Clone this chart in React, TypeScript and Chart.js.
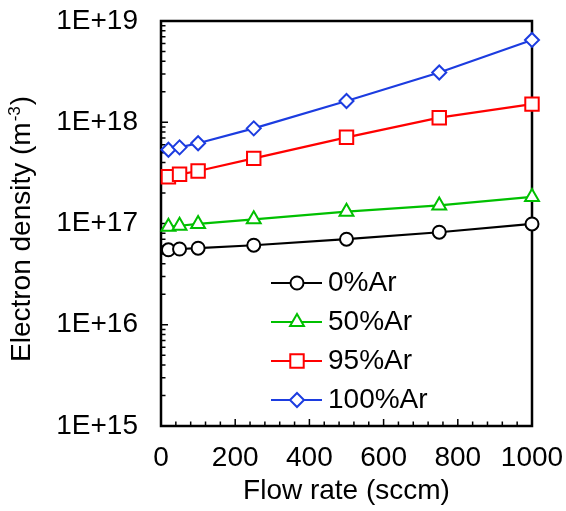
import { useEffect, useRef } from 'react';
import { Chart, registerables } from 'chart.js';

Chart.register(...registerables);

// Flow rate (sccm) at which electron density was measured
const flowRates = [20, 50, 100, 250, 500, 750, 1000];

// Electron density (m^-3) per Ar fraction
const ar0 = [5.5e16, 5.6e16, 5.7e16, 6.1e16, 7.0e16, 8.2e16, 9.9e16];
const ar50 = [9.3e16, 9.5e16, 9.9e16, 1.1e17, 1.31e17, 1.51e17, 1.83e17];
const ar95 = [2.9e17, 3.06e17, 3.3e17, 4.4e17, 7.1e17, 1.11e18, 1.51e18];
const ar100 = [5.35e17, 5.65e17, 6.2e17, 8.7e17, 1.62e18, 3.1e18, 6.5e18];

const seriesNames = ['0%Ar', '50%Ar', '95%Ar', '100%Ar'];
const seriesColors = ['#000000', '#00c000', '#ff0000', '#1c3ce0'];
const seriesShapes = ['circle', 'triangle', 'rect', 'rectRot'];
const seriesRadii = [6.5, 8, 9.5, 7];

const xTickValues = [0, 200, 400, 600, 800, 1000];
const yTickValues = [1e15, 1e16, 1e17, 1e18, 1e19];

const FONT = '"Liberation Sans", Arial, sans-serif';

function drawMarker(ctx: CanvasRenderingContext2D, shape: string, x: number, y: number, r: number) {
  ctx.beginPath();
  if (shape === 'circle') {
    ctx.arc(x, y, r, 0, Math.PI * 2);
  } else if (shape === 'triangle') {
    for (let i = 0; i < 3; i++) {
      const a = (i * 2 * Math.PI) / 3;
      const px = x + Math.sin(a) * r;
      const py = y - Math.cos(a) * r;
      if (i === 0) ctx.moveTo(px, py);
      else ctx.lineTo(px, py);
    }
    ctx.closePath();
  } else if (shape === 'rect') {
    const s = r * Math.SQRT1_2;
    ctx.rect(x - s, y - s, 2 * s, 2 * s);
  } else {
    ctx.moveTo(x, y - r);
    ctx.lineTo(x + r, y);
    ctx.lineTo(x, y + r);
    ctx.lineTo(x - r, y);
    ctx.closePath();
  }
  ctx.fill();
  ctx.stroke();
}

// Plot frame with inward ticks (drawn under the data)
const framePlugin = {
  id: 'frameTicks',
  beforeDatasetsDraw(chart: any) {
    const { ctx, chartArea: a, scales } = chart;
    const xs = scales.x;
    const ys = scales.y;
    ctx.save();
    ctx.strokeStyle = '#000';
    ctx.lineWidth = 1.5;
    ctx.beginPath();
    for (let v = 0; v <= 1000; v += 40) {
      const px = xs.getPixelForValue(v);
      const len = v % 200 === 0 ? 7 : 4.5;
      ctx.moveTo(px, a.bottom);
      ctx.lineTo(px, a.bottom - len);
    }
    for (let e = 15; e <= 19; e++) {
      for (let k = 1; k < 10; k++) {
        if (e === 19 && k > 1) break;
        const v = k * Math.pow(10, e);
        const py = ys.getPixelForValue(v);
        const len = k === 1 ? 7 : 4.5;
        ctx.moveTo(a.left, py);
        ctx.lineTo(a.left + len, py);
      }
    }
    ctx.stroke();
    ctx.lineWidth = 2.5;
    ctx.strokeRect(a.left, a.top, a.right - a.left, a.bottom - a.top);
    ctx.restore();
  },
  afterDraw(chart: any) {
    const { ctx } = chart;
    ctx.save();
    // Legend: line segment with marker, then series name
    const rowY = [283, 322, 361, 400];
    seriesNames.forEach((name, i) => {
      const y = rowY[i];
      ctx.strokeStyle = seriesColors[i];
      ctx.lineWidth = 2.2;
      ctx.beginPath();
      ctx.moveTo(271, y);
      ctx.lineTo(322, y);
      ctx.stroke();
      ctx.fillStyle = '#fff';
      ctx.lineWidth = 2;
      drawMarker(ctx, seriesShapes[i], 297, y, seriesRadii[i]);
      ctx.fillStyle = '#000';
      ctx.font = `28px ${FONT}`;
      ctx.textAlign = 'left';
      ctx.textBaseline = 'middle';
      ctx.fillText(name, 328, y);
    });

    // Y axis title with superscript exponent
    ctx.translate(30, 362);
    ctx.rotate(-Math.PI / 2);
    ctx.fillStyle = '#000';
    ctx.textAlign = 'left';
    ctx.textBaseline = 'alphabetic';
    const main = 'Electron density (m';
    ctx.font = `28px ${FONT}`;
    ctx.fillText(main, 0, 0);
    let w = ctx.measureText(main).width + 1;
    ctx.font = `17px ${FONT}`;
    ctx.fillText('-3', w, -10);
    w += ctx.measureText('-3').width + 1;
    ctx.font = `28px ${FONT}`;
    ctx.fillText(')', w, 0);
    ctx.restore();
  },
};

export default function App() {
  const canvasRef = useRef<HTMLCanvasElement | null>(null);

  useEffect(() => {
    const canvas = canvasRef.current;
    if (!canvas) return;
    const seriesValues = [ar0, ar50, ar95, ar100];
    const chart = new Chart(canvas, {
      type: 'line',
      data: {
        datasets: seriesValues.map((vals, i) => ({
          label: seriesNames[i],
          data: flowRates.map((x, j) => ({ x, y: vals[j] })),
          borderColor: seriesColors[i],
          backgroundColor: '#ffffff',
          pointBackgroundColor: '#ffffff',
          pointBorderColor: seriesColors[i],
          pointBorderWidth: 2,
          pointStyle: seriesShapes[i] as any,
          pointRadius: seriesRadii[i],
          borderWidth: 2.2,
          tension: 0,
          clip: false as any,
        })),
      },
      options: {
        responsive: false,
        animation: false,
        layout: { padding: { left: 0, right: 34, top: 21, bottom: 0 } },
        plugins: {
          legend: { display: false },
          tooltip: { enabled: false },
        },
        scales: {
          x: {
            type: 'linear',
            min: 0,
            max: 1000,
            grid: { display: false, drawTicks: false },
            border: { display: false },
            afterBuildTicks: (s: any) => {
              s.ticks = xTickValues.map((value) => ({ value }));
            },
            afterFit: (s: any) => {
              s.height = 85;
              s.paddingLeft = 0;
              s.paddingRight = 0;
            },
            ticks: {
              autoSkip: false,
              maxRotation: 0,
              padding: 15,
              color: '#000',
              font: { family: FONT, size: 28 },
              callback: (v: any) => String(v),
            },
            title: {
              display: true,
              text: 'Flow rate (sccm)',
              color: '#000',
              font: { family: FONT, size: 28 },
              padding: { top: 0, bottom: 3 },
            },
          },
          y: {
            type: 'logarithmic',
            min: 1e15,
            max: 1e19,
            grid: { display: false, drawTicks: false },
            border: { display: false },
            afterBuildTicks: (s: any) => {
              s.ticks = yTickValues.map((value) => ({ value }));
            },
            afterFit: (s: any) => {
              s.width = 161;
              s.paddingTop = 0;
              s.paddingBottom = 0;
            },
            ticks: {
              autoSkip: false,
              padding: 23,
              color: '#000',
              font: { family: FONT, size: 28 },
              callback: (v: any) => '1E+' + Math.round(Math.log10(Number(v))),
            },
          },
        },
      },
      plugins: [framePlugin],
    });
    return () => chart.destroy();
  }, []);

  return (
    <div style={{ position: 'absolute', left: 0, top: 0, width: 566, height: 511, background: '#fff' }}>
      <canvas ref={canvasRef} width={566} height={511} style={{ display: 'block' }} />
    </div>
  );
}
